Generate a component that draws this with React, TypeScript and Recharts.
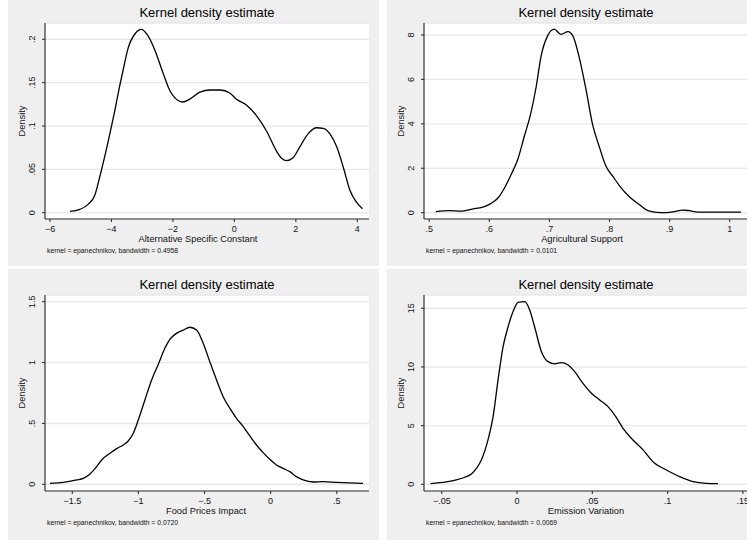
import { LineChart, Line, XAxis, YAxis, CartesianGrid } from 'recharts';

// Alternative Specific Constant
const ascX = [-5.35, -5.03, -4.76, -4.54, -4.38, -4.22, -4.05, -3.89, -3.76, -3.62, -3.46, -3.22, -3.03, -2.83, -2.59, -2.32, -2.11, -1.95, -1.68, -1.45, -1.12, -0.79, -0.47, -0.14, 0.07, 0.4, 0.73, 1.05, 1.38, 1.54, 1.7, 1.9, 2.13, 2.41, 2.68, 2.89, 3.11, 3.33, 3.54, 3.76, 3.96, 4.17];
const ascY = [0.0015, 0.0038, 0.0096, 0.0204, 0.0415, 0.0646, 0.0915, 0.118, 0.1415, 0.1646, 0.1896, 0.207, 0.2115, 0.205, 0.1877, 0.161, 0.1415, 0.133, 0.1277, 0.131, 0.139, 0.1415, 0.1415, 0.1377, 0.1308, 0.124, 0.1115, 0.094, 0.0704, 0.0627, 0.06, 0.063, 0.076, 0.0915, 0.098, 0.0973, 0.0908, 0.076, 0.053, 0.026, 0.0127, 0.0046];

// Agricultural Support
const agrX = [0.511, 0.533, 0.553, 0.572, 0.592, 0.603, 0.614, 0.625, 0.636, 0.647, 0.658, 0.669, 0.678, 0.686, 0.697, 0.708, 0.719, 0.731, 0.739, 0.75, 0.761, 0.772, 0.783, 0.794, 0.806, 0.817, 0.833, 0.85, 0.864, 0.878, 0.894, 0.908, 0.922, 0.933, 0.947, 0.961, 0.989, 1.019];
const agrY = [0.045, 0.09, 0.075, 0.165, 0.27, 0.42, 0.65, 1.1, 1.7, 2.37, 3.42, 4.47, 5.67, 7.03, 7.96, 8.26, 8.03, 8.15, 7.96, 6.95, 5.53, 3.95, 2.97, 2.1, 1.62, 1.2, 0.72, 0.36, 0.09, 0.015, 0.0, 0.045, 0.12, 0.09, 0.03, 0.03, 0.03, 0.03];

// Food Prices Impact
const foodX = [-1.669, -1.568, -1.467, -1.417, -1.366, -1.316, -1.278, -1.215, -1.165, -1.115, -1.077, -1.039, -1.001, -0.951, -0.9, -0.85, -0.8, -0.762, -0.712, -0.661, -0.611, -0.56, -0.51, -0.46, -0.409, -0.359, -0.308, -0.258, -0.207, -0.157, -0.107, -0.057, -0.006, 0.044, 0.094, 0.145, 0.195, 0.246, 0.321, 0.397, 0.497, 0.598, 0.699];
const foodY = [0.008, 0.016, 0.036, 0.049, 0.085, 0.145, 0.2, 0.255, 0.293, 0.323, 0.356, 0.419, 0.528, 0.693, 0.857, 0.985, 1.117, 1.19, 1.24, 1.267, 1.29, 1.267, 1.158, 1.007, 0.857, 0.72, 0.624, 0.542, 0.474, 0.397, 0.323, 0.26, 0.205, 0.159, 0.131, 0.104, 0.063, 0.036, 0.019, 0.022, 0.016, 0.011, 0.008];

// Emission Variation
const emiX = [-0.0575, -0.0469, -0.0403, -0.0347, -0.0303, -0.027, -0.0237, -0.0193, -0.0159, -0.0126, -0.0093, -0.006, -0.0027, 0.0007, 0.0051, 0.0084, 0.0117, 0.0162, 0.0206, 0.025, 0.0294, 0.0339, 0.0383, 0.0438, 0.0494, 0.0549, 0.0604, 0.0649, 0.0704, 0.0759, 0.0837, 0.0914, 0.0992, 0.108, 0.1169, 0.1257, 0.1335];
const emiY = [0.057, 0.2, 0.37, 0.6, 0.88, 1.36, 2.07, 3.78, 5.77, 8.9, 11.7, 13.4, 14.7, 15.5, 15.57, 14.86, 13.4, 11.3, 10.45, 10.26, 10.37, 10.17, 9.6, 8.6, 7.76, 7.19, 6.62, 5.9, 4.77, 3.92, 2.93, 1.79, 1.22, 0.65, 0.23, 0.085, 0.057];

const ascXTicks = [-6, -4, -2, 0, 2, 4];
const ascXLabels = ['−6', '−4', '−2', '0', '2', '4'];
const ascYTicks = [0, 0.05, 0.1, 0.15, 0.2];
const ascYLabels = ['0', '.05', '.1', '.15', '.2'];

const agrXTicks = [0.5, 0.6, 0.7, 0.8, 0.9, 1];
const agrXLabels = ['.5', '.6', '.7', '.8', '.9', '1'];
const agrYTicks = [0, 2, 4, 6, 8];
const agrYLabels = ['0', '2', '4', '6', '8'];

const foodXTicks = [-1.5, -1, -0.5, 0, 0.5];
const foodXLabels = ['−1.5', '−1', '−.5', '0', '.5'];
const foodYTicks = [0, 0.5, 1, 1.5];
const foodYLabels = ['0', '.5', '1', '1.5'];

const emiXTicks = [-0.05, 0, 0.05, 0.1, 0.15];
const emiXLabels = ['−.05', '0', '.05', '.1', '.15'];
const emiYTicks = [0, 5, 10, 15];
const emiYLabels = ['0', '5', '10', '15'];

const FONT = '"Liberation Sans", Arial, Helvetica, sans-serif';
const PANEL_W = 371;
const PLOT_L = 37;
const PLOT_T = 26;
const PLOT_W = 324;
const PLOT_H = 196;
const AXIS = '#333';

interface PanelProps {
  left: number;
  top: number;
  height: number;
  xs: number[];
  ys: number[];
  xDomain: [number, number];
  yDomain: [number, number];
  xTicks: number[];
  xLabels: string[];
  yTicks: number[];
  yLabels: string[];
  xTitle: string;
  xTitleX: number;
  note: string;
}

function Panel(p: PanelProps) {
  const data = p.xs.map((x, i) => ({ x, y: p.ys[i] }));
  const xAxisH = p.height - PLOT_T - PLOT_H;

  const XTick = (props: any) => {
    const { x, y, payload } = props;
    const i = p.xTicks.indexOf(payload.value);
    return (
      <text x={x} y={y + 10} textAnchor="middle" fontSize={9} fontFamily={FONT} fill="#111">
        {p.xLabels[i]}
      </text>
    );
  };

  const YTick = (props: any) => {
    const { x, y, payload } = props;
    const i = p.yTicks.indexOf(payload.value);
    const tx = x - 6.5;
    return (
      <text
        x={tx}
        y={y}
        transform={`rotate(-90, ${tx}, ${y})`}
        textAnchor="middle"
        fontSize={9}
        fontFamily={FONT}
        fill="#111"
      >
        {p.yLabels[i]}
      </text>
    );
  };

  return (
    <div
      style={{
        position: 'absolute',
        left: p.left,
        top: p.top,
        width: PANEL_W,
        height: p.height,
        background: '#efefef',
      }}
    >
      <LineChart
        width={PANEL_W}
        height={p.height}
        data={data}
        margin={{ top: PLOT_T, left: 0, right: PANEL_W - PLOT_L - PLOT_W, bottom: 0 }}
      >
        <CartesianGrid vertical={false} fill="#ffffff" stroke="#e8e8e8" strokeWidth={1.4} />
        <XAxis
          type="number"
          dataKey="x"
          domain={p.xDomain}
          ticks={p.xTicks}
          allowDataOverflow
          interval={0}
          height={xAxisH}
          tickSize={3}
          tickMargin={0}
          axisLine={{ stroke: AXIS, strokeWidth: 1.2 }}
          tickLine={{ stroke: AXIS, strokeWidth: 1.1 }}
          tick={XTick}
        />
        <YAxis
          type="number"
          domain={p.yDomain}
          ticks={p.yTicks}
          allowDataOverflow
          interval={0}
          width={PLOT_L}
          tickSize={3}
          tickMargin={0}
          axisLine={{ stroke: AXIS, strokeWidth: 1.2 }}
          tickLine={{ stroke: AXIS, strokeWidth: 1.1 }}
          tick={YTick}
        />
        <Line
          type="monotone"
          dataKey="y"
          stroke="#000"
          strokeWidth={1.3}
          dot={false}
          isAnimationActive={false}
        />
      </LineChart>
      <svg
        width={PANEL_W}
        height={p.height}
        style={{ position: 'absolute', left: 0, top: 0, pointerEvents: 'none' }}
      >
        <text x={PLOT_L + PLOT_W / 2} y={20.3} textAnchor="middle" fontSize={13} fontFamily={FONT} fill="#000">
          Kernel density estimate
        </text>
        <text x={p.xTitleX} y={244.7} textAnchor="middle" fontSize={9.3} fontFamily={FONT} fill="#111">
          {p.xTitle}
        </text>
        <text
          x={17}
          y={PLOT_T + PLOT_H / 2}
          transform={`rotate(-90, 17, ${PLOT_T + PLOT_H / 2})`}
          textAnchor="middle"
          fontSize={9.3}
          fontFamily={FONT}
          fill="#111"
        >
          Density
        </text>
        <text x={39} y={256} fontSize={6.8} fontFamily={FONT} fill="#111">
          {p.note}
        </text>
      </svg>
    </div>
  );
}

export default function App() {
  return (
    <div
      style={{
        position: 'absolute',
        left: 0,
        top: 0,
        width: 747,
        height: 540,
        overflow: 'hidden',
        background: '#ffffff',
      }}
    >
      <Panel
        left={8}
        top={-3}
        height={269}
        xs={ascX}
        ys={ascY}
        xDomain={[-6.163, 4.381]}
        yDomain={[-0.00727, 0.2188]}
        xTicks={ascXTicks}
        xLabels={ascXLabels}
        yTicks={ascYTicks}
        yLabels={ascYLabels}
        xTitle="Alternative Specific Constant"
        xTitleX={190}
        note="kernel = epanechnikov, bandwidth = 0.4958"
      />
      <Panel
        left={387}
        top={-3}
        height={269}
        xs={agrX}
        ys={agrY}
        xDomain={[0.4913, 1.0305]}
        yDomain={[-0.284, 8.54]}
        xTicks={agrXTicks}
        xLabels={agrXLabels}
        yTicks={agrYTicks}
        yLabels={agrYLabels}
        xTitle="Agricultural Support"
        xTitleX={195}
        note="kernel = epanechnikov, bandwidth = 0.0101"
      />
      <Panel
        left={8}
        top={269}
        height={271}
        xs={foodX}
        ys={foodY}
        xDomain={[-1.7065, 0.744]}
        yDomain={[-0.055, 1.555]}
        xTicks={foodXTicks}
        xLabels={foodXLabels}
        yTicks={foodYTicks}
        yLabels={foodYLabels}
        xTitle="Food Prices Impact"
        xTitleX={198}
        note="kernel = epanechnikov, bandwidth = 0.0720"
      />
      <Panel
        left={387}
        top={269}
        height={271}
        xs={emiX}
        ys={emiY}
        xDomain={[-0.0618, 0.1534]}
        yDomain={[-0.57, 16.13]}
        xTicks={emiXTicks}
        xLabels={emiXLabels}
        yTicks={emiYTicks}
        yLabels={emiYLabels}
        xTitle="Emission Variation"
        xTitleX={199}
        note="kernel = epanechnikov, bandwidth = 0.0069"
      />
    </div>
  );
}
